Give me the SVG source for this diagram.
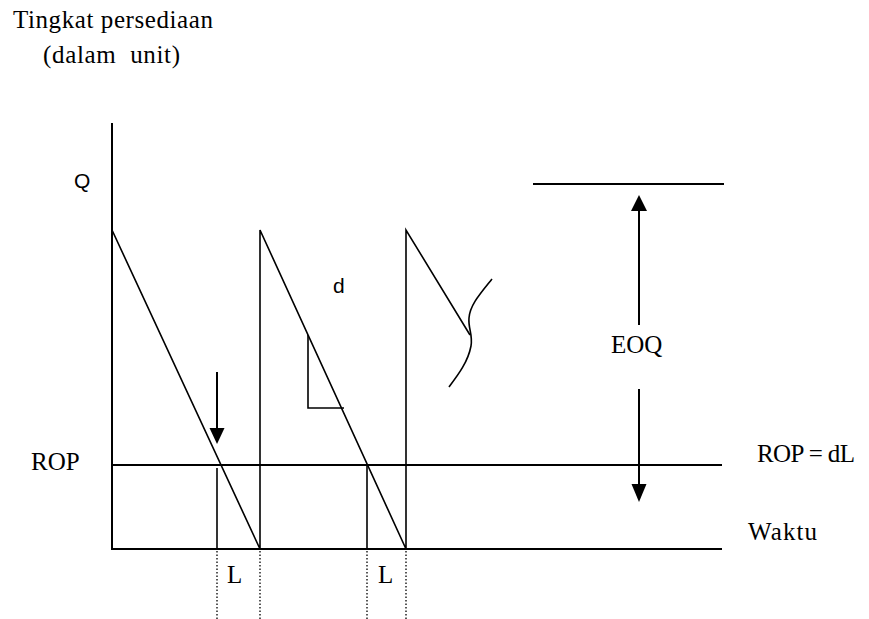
<svg xmlns="http://www.w3.org/2000/svg" width="869" height="619" viewBox="0 0 869 619">
<style>
.serif{font-family:"Liberation Serif","Times New Roman",serif;font-size:25px;fill:#000}
.sans{font-family:"Liberation Sans",Arial,sans-serif;font-size:21px;fill:#000}
.thick{stroke:#000;stroke-width:2;fill:none}
.thin{stroke:#000;stroke-width:1.6;fill:none}
.dot{stroke:#000;stroke-width:1.3;stroke-dasharray:1.5 2;fill:none}
.head{fill:#000}
</style>
<rect width="869" height="619" fill="#fff"/>
<g id="labels">
<text class="serif" x="13" y="28" textLength="200">Tingkat persediaan</text>
<text class="serif" x="43" y="63" xml:space="preserve" textLength="137">(dalam  unit)</text>
<text class="sans" x="74" y="188">Q</text>
<text class="sans" x="333" y="293">d</text>
<text class="serif" x="31" y="470">ROP</text>
<text class="serif" x="757" y="462" textLength="98">ROP = dL</text>
<text class="serif" x="748" y="540" textLength="69">Waktu</text>
<text class="serif" x="611" y="353">EOQ</text>
<text class="serif" x="227" y="583">L</text>
<text class="serif" x="378" y="583">L</text>
</g>
<g id="axes">
<line class="thick" x1="112" y1="123" x2="112" y2="550"/>
<line class="thick" x1="111" y1="549" x2="722" y2="549"/>
<line class="thick" x1="112" y1="465" x2="722" y2="465"/>
<line class="thick" x1="533" y1="184" x2="724" y2="184"/>
</g>
<g id="sawtooth">
<polyline class="thin" points="112,230 260,549 260,230 406,549 406,230 470,335"/>
<path class="thin" d="M492,279 C480,294 470,305 469,318 C468,328 473,335 471,346 C468,362 458,375 449,387"/>
<polyline class="thin" points="308,335 308,408 344,408"/>
</g>
<g id="leadtime">
<line class="thin" x1="217" y1="468" x2="217" y2="549"/>
<line class="thin" x1="367" y1="465" x2="367" y2="549"/>
<line class="dot" x1="217" y1="551" x2="217" y2="619"/>
<line class="dot" x1="260" y1="551" x2="260" y2="619"/>
<line class="dot" x1="367" y1="551" x2="367" y2="619"/>
<line class="dot" x1="406" y1="551" x2="406" y2="619"/>
</g>
<g id="connectors">
<line class="thick" x1="217" y1="372" x2="217" y2="430"/>
<polygon class="head" points="209.5,428 224.5,428 217,444"/>
<line class="thick" x1="639" y1="325" x2="639" y2="209"/>
<polygon class="head" points="631,211 647,211 639,195"/>
<line class="thick" x1="639" y1="389" x2="639" y2="486"/>
<polygon class="head" points="631.5,484 646.5,484 639,502"/>
</g>
</svg>
